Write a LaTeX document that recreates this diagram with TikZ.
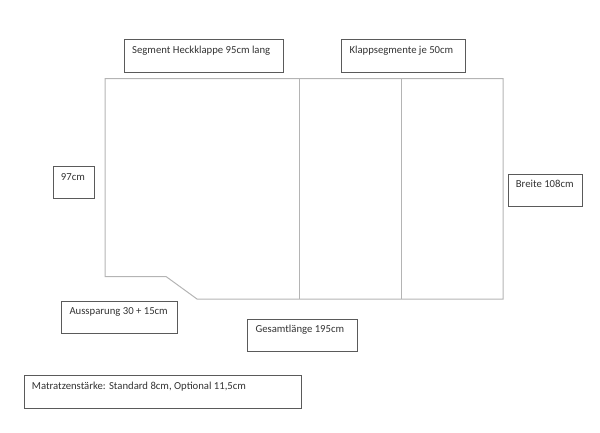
\documentclass[tikz,border=0pt]{standalone}
\usepackage{fontspec}
\setmainfont{Carlito}
\usetikzlibrary{calc}
\definecolor{boxline}{HTML}{5A5A5A}
\definecolor{plateline}{HTML}{B4B4B4}
\definecolor{labeltext}{HTML}{333333}
\tikzset{
  x=1pt,y=-1pt,
  infobox/.style={draw=boxline,line width=0.9pt,fill=white,rectangle,inner sep=0pt,anchor=north west},
  infotext/.style={text=labeltext,inner sep=0pt,anchor=base west,font=\fontsize{10.7}{12}\selectfont},
  plate/.style={draw=plateline,line width=1pt,line join=miter}
}
\begin{document}
\begin{tikzpicture}
\useasboundingbox (0,0) rectangle (600,432);
% plate
\coordinate (tl) at (105,78.5);
\coordinate (tr) at (503,78.5);
\coordinate (br) at (503,299);
\coordinate (nb) at (197,299);
\coordinate (nt) at (166,276.5);
\coordinate (nl) at (105,276.5);
\coordinate (d1t) at (299,78.5);
\coordinate (d1b) at (299,299);
\coordinate (d2t) at (401,78.5);
\coordinate (d2b) at (401,299);
\draw[plate] (tl) -- (tr) -- (br) -- (nb) -- (nt) -- (nl) -- cycle;
\draw[plate] (d1t) -- (d1b);
\draw[plate] (d2t) -- (d2b);
% boxes
\node[infobox,minimum width=159pt,minimum height=32.6pt] (seg) at (124.3,39.4) {};
\node[infotext] (segt) at (132,53.3) {Segment Heckklappe 95cm lang};
\node[infobox,minimum width=123.3pt,minimum height=32.6pt] (klapp) at (341.3,39.4) {};
\node[infotext] (klappt) at (349.3,53.3) {Klappsegmente je 50cm};
\node[infobox,minimum width=40.5pt,minimum height=32.5pt] (hoehe) at (53.1,165.7) {};
\node[infotext] (hoehet) at (60.7,180) {97cm};
\node[infobox,minimum width=74pt,minimum height=32.5pt] (breite) at (507.9,173.7) {};
\node[infotext] (breitet) at (515.7,187.7) {Breite 108cm};
\node[infobox,minimum width=116pt,minimum height=32.3pt] (auss) at (61.3,300.7) {};
\node[infotext] (ausst) at (69.3,314.3) {Aussparung 30 + 15cm};
\node[infobox,minimum width=109.6pt,minimum height=32.4pt] (ges) at (247.3,319) {};
\node[infotext] (gest) at (255.3,332.7) {Gesamtlänge 195cm};
\node[infobox,minimum width=277.4pt,minimum height=32.3pt] (matr) at (23.9,375.4) {};
\node[infotext] (matrt) at (31.7,389.3) {Matratzenstärke: Standard 8cm, Optional 11,5cm};
\end{tikzpicture}
\end{document}
